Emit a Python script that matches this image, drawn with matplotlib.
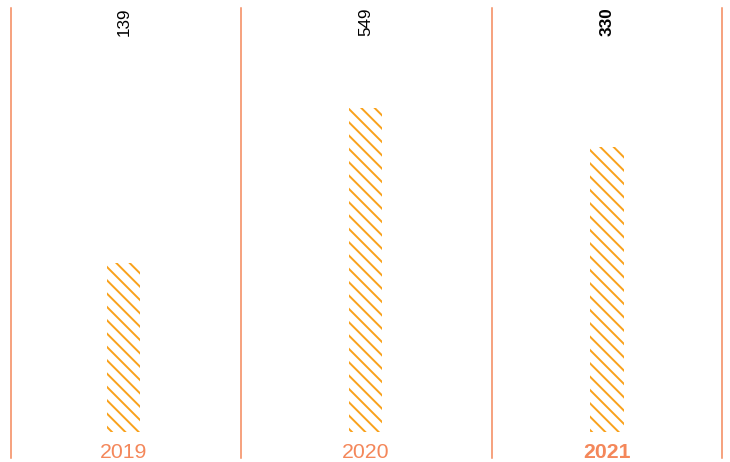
import matplotlib
matplotlib.use("Agg")
import matplotlib.pyplot as plt

years = ["2019", "2020", "2021"]
counts = [139, 549, 330]
# bar heights as drawn (relative to the tallest bar)
heights = [52, 100, 88]
highlight = "2021"

ORANGE = "#f9a11b"
CORAL = "#f4875a"

# dpi 80 so the hatch spacing comes out around 13px
DPI = 80
S = 100 / DPI  # keep pixel sizes as if drawn at 100 dpi

plt.rcParams["font.family"] = ["Liberation Sans", "DejaVu Sans"]
plt.rcParams["hatch.linewidth"] = 1.4 * S

fig = plt.figure(figsize=(730 / DPI, 462 / DPI), dpi=DPI)
ax = fig.add_axes([0, 0, 1, 1])

x = list(range(len(years)))
ax.bar(x, heights, width=0.137, facecolor="none", edgecolor=ORANGE,
       linewidth=0, hatch="\\\\")

# column separators
for sep in [-0.468, 0.484, 1.524, 2.476]:
    ax.axvline(sep, ymin=0.009, ymax=0.983, color=CORAL, lw=1.1 * S)

for i, (yr, c) in enumerate(zip(years, counts)):
    bold = "bold" if yr == highlight else "normal"
    ax.text(i, 126.5, str(c), rotation=90, ha="center", va="center",
            fontsize=12.3 * S, color="black", fontweight=bold)
    ax.text(i, -6.2, yr, ha="center", va="center", fontsize=15.3 * S,
            color=CORAL, fontweight=bold)

ax.set_xlim(-0.513, 2.509)
ax.set_ylim(-9.26, 133.3)
ax.axis("off")

fig.savefig("out.png", dpi=DPI)
